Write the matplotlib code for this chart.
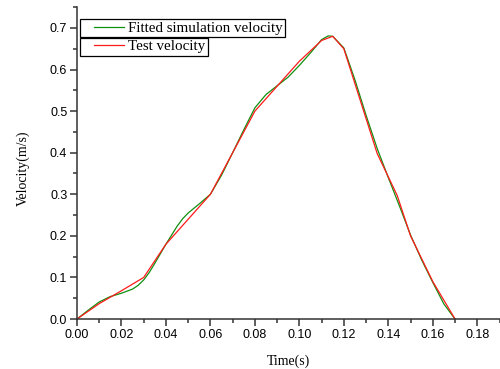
import numpy as np
import matplotlib
matplotlib.use("Agg")
import matplotlib.pyplot as plt
from matplotlib.ticker import MultipleLocator, FormatStrFormatter
from matplotlib.legend_handler import HandlerLine2D

# fitted simulation velocity (green, smooth)
fit_t = [0.000, 0.005, 0.010, 0.015, 0.020, 0.025, 0.0275, 0.030, 0.0325, 0.035,
         0.040, 0.045, 0.0475, 0.050, 0.055, 0.060, 0.065, 0.070, 0.075, 0.080,
         0.085, 0.090, 0.095, 0.100, 0.105, 0.110, 0.113, 0.115, 0.120, 0.125,
         0.130, 0.135, 0.140, 0.145, 0.150, 0.155, 0.160, 0.165, 0.170]
fit_v = [0.000, 0.021, 0.041, 0.054, 0.062, 0.072, 0.081, 0.094, 0.112, 0.134,
         0.180, 0.223, 0.241, 0.255, 0.277, 0.300, 0.346, 0.400, 0.455, 0.508,
         0.540, 0.561, 0.582, 0.610, 0.640, 0.672, 0.681, 0.680, 0.652, 0.575,
         0.490, 0.410, 0.340, 0.272, 0.202, 0.142, 0.088, 0.036, 0.000]

# test velocity (red, measured points)
test_t = [0.000, 0.010, 0.020, 0.030, 0.040, 0.050, 0.060, 0.070, 0.080, 0.090,
          0.100, 0.110, 0.115, 0.120, 0.135, 0.144, 0.150, 0.160, 0.170]
test_v = [0.000, 0.037, 0.068, 0.100, 0.180, 0.240, 0.300, 0.400, 0.500, 0.560,
          0.620, 0.670, 0.680, 0.650, 0.398, 0.297, 0.200, 0.090, 0.000]

fig = plt.figure(figsize=(5.0, 3.69), dpi=100)
ax = fig.add_axes([0.154, 0.1355, 0.845, 0.845])

green, = ax.plot(fit_t, fit_v, color="#109010", lw=0.9)
red, = ax.plot(test_t, test_v, color="#ff1a1a", lw=0.9)

ax.set_xlim(0, 0.19)
ax.set_ylim(0, 0.75)
ax.xaxis.set_major_locator(MultipleLocator(0.02))
ax.xaxis.set_minor_locator(MultipleLocator(0.01))
ax.yaxis.set_major_locator(MultipleLocator(0.1))
ax.yaxis.set_minor_locator(MultipleLocator(0.05))
ax.xaxis.set_major_formatter(FormatStrFormatter("%.2f"))
ax.yaxis.set_major_formatter(FormatStrFormatter("%.1f"))

for s in ["top", "right"]:
    ax.spines[s].set_visible(False)
for s in ["left", "bottom"]:
    ax.spines[s].set_linewidth(1.1)
    ax.spines[s].set_color("#333333")

ax.tick_params(which="major", direction="out", length=5, width=1.1, color="#333333",
               labelsize=9, pad=2)
ax.tick_params(which="minor", direction="out", length=3, width=1.1, color="#333333")
for lab in ax.get_xticklabels() + ax.get_yticklabels():
    lab.set_fontfamily("Liberation Sans")

ax.set_xlabel("Time(s)", fontfamily="Liberation Serif", fontsize=10, labelpad=10)
ax.set_ylabel("Velocity(m/s)", fontfamily="Liberation Serif", fontsize=10)
ax.yaxis.set_label_coords(-0.112, 0.485)

leg_kw = dict(loc="upper left", fancybox=False, framealpha=1, edgecolor="black",
              borderpad=0.15, handlelength=2.8, handletextpad=0.3, borderaxespad=0,
              prop={"family": "Liberation Serif", "size": 10.8})
leg1 = fig.legend([green], ["Fitted simulation velocity"],
                  handler_map={green: HandlerLine2D(xpad=0.8)},
                  bbox_to_anchor=(79.5 / 500, 1 - 19 / 369), **leg_kw)
leg2 = fig.legend([red], ["Test velocity"],
                  handler_map={red: HandlerLine2D(xpad=0.8)},
                  bbox_to_anchor=(79.5 / 500, 1 - 37.7 / 369), **leg_kw)
for leg in (leg1, leg2):
    leg.get_frame().set_linewidth(0.9)

fig.savefig("out.png", dpi=100)
